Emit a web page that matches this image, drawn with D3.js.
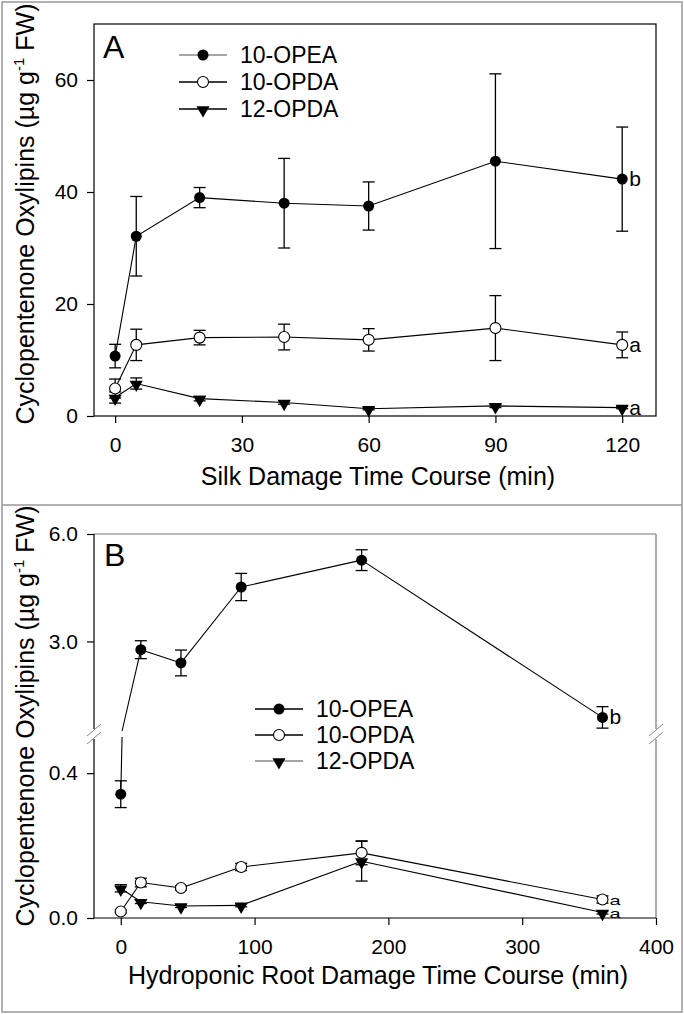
<!DOCTYPE html>
<html>
<head>
<meta charset="utf-8">
<script src="https://cdn.jsdelivr.net/npm/d3@7"></script>
<style>
body { margin: 0; background: #fff; }
text { font-family: "Liberation Sans", Arial, sans-serif; fill: #000; }
</style>
</head>
<body>
<svg id="chart" width="684" height="1014"></svg>
<script>
// ---- panel A: silk damage ----
var timeA = [0, 5, 20, 40, 60, 90, 120];
var opeaA = [10.7, 32.1, 39.0, 38.0, 37.5, 45.5, 42.3];
var opeaA_se = [2.1, 7.1, 1.8, 8.0, 4.3, 15.6, 9.3];
var opdaA = [4.9, 12.7, 14.0, 14.1, 13.6, 15.7, 12.7];
var opdaA_se = [1.7, 2.8, 1.3, 2.3, 2.0, 5.8, 2.3];
var opda12A = [3.3, 5.8, 3.1, 2.4, 1.3, 1.8, 1.5];
var opda12A_se = [1.0, 1.0, 0.4, 0.3, 0.2, 0.3, 0.2];
var ticksAx = [0, 30, 60, 90, 120];
var ticksAy = [0, 20, 40, 60];

// ---- panel B: hydroponic root damage ----
var timeB = [0, 15, 45, 90, 180, 360];
var opeaB = [0.342, 2.77, 2.40, 4.52, 5.27, 0.88];
var opeaB_se = [0.037, 0.25, 0.36, 0.38, 0.29, 0.30];
var opdaB = [0.018, 0.098, 0.083, 0.141, 0.18, 0.051];
var opdaB_se = [0.004, 0.012, 0.006, 0.01, 0.033, 0.01];
var opda12B = [0.082, 0.045, 0.033, 0.035, 0.157, 0.015];
var opda12B_se = [0.01, 0.005, 0.004, 0.004, 0.055, 0.004];
var ticksBx = [0, 100, 200, 300, 400];
var ticksBy = [0.0, 0.4, 3.0, 6.0];
var breakAt = 0.5;

var seriesNames = ["10-OPEA", "10-OPDA", "12-OPDA"];

var svg = d3.select("#chart");

// outer frame and panel divider
svg.append("rect").attr("x", 2).attr("y", 2).attr("width", 680).attr("height", 1010)
    .attr("fill", "none").attr("stroke", "#999").attr("stroke-width", 1.5);
svg.append("line").attr("x1", 2).attr("x2", 682).attr("y1", 505).attr("y2", 505)
    .attr("stroke", "#999").attr("stroke-width", 1.5);

var left = 94, right = 656;
var tickFont = 21;

function drawMarker(g, kind, x, y) {
    if (kind === 0) {
        g.append("circle").attr("cx", x).attr("cy", y).attr("r", 5.5).attr("fill", "#000");
    } else if (kind === 1) {
        g.append("circle").attr("cx", x).attr("cy", y).attr("r", 5.5)
            .attr("fill", "#fff").attr("stroke", "#000").attr("stroke-width", 1.1);
    } else {
        g.append("path").attr("d", d3.symbol().type(d3.symbolTriangle).size(75)())
            .attr("transform", "translate(" + x + "," + (y + 1) + ") rotate(180)")
            .attr("fill", "#000");
    }
}

function errorBars(g, xs, ys, se, x, y) {
    xs.forEach(function(t, i) {
        var cx = x(t), y1 = y(ys[i] + se[i]), y2 = y(ys[i] - se[i]);
        g.append("line").attr("x1", cx).attr("x2", cx).attr("y1", y1).attr("y2", y2)
            .attr("stroke", "#000").attr("stroke-width", 1.3);
        [y1, y2].forEach(function(yy) {
            g.append("line").attr("x1", cx - 6).attr("x2", cx + 6).attr("y1", yy).attr("y2", yy)
                .attr("stroke", "#000").attr("stroke-width", 1.3);
        });
    });
}

function legend(g, x0, y0, dy, lineColors) {
    seriesNames.forEach(function(name, i) {
        var yy = y0 + i * dy;
        g.append("line").attr("x1", x0).attr("x2", x0 + 48).attr("y1", yy).attr("y2", yy)
            .attr("stroke", lineColors[i]).attr("stroke-width", 1.3);
        drawMarker(g, i, x0 + 24, yy);
        g.append("text").attr("x", x0 + 61).attr("y", yy + 8).attr("font-size", 23).text(name);
    });
}

function styleAxis(a) {
    a.selectAll(".tick line").attr("stroke", "#000").attr("stroke-width", 1.2);
    a.selectAll("text").attr("font-size", tickFont)
        .attr("font-family", "Liberation Sans, Arial, sans-serif").attr("fill", "#000");
}

function yTitle(g, cy) {
    var t = g.append("text").attr("transform", "translate(34," + cy + ") rotate(-90)")
        .attr("text-anchor", "middle").attr("font-size", 25);
    t.append("tspan").text("Cyclopentenone Oxylipins (\u00b5g g");
    t.append("tspan").attr("dy", -10).attr("font-size", 15).text("-1");
    t.append("tspan").attr("dy", 10).text(" FW)");
}

// ================= Panel A =================
var xA = d3.scaleLinear().domain([-5, 128]).range([left, right]);
var yA = d3.scaleLinear().domain([0, 70]).range([416, 24]);
var gA = svg.append("g");

gA.append("rect").attr("x", left).attr("y", 24).attr("width", right - left).attr("height", 392)
    .attr("fill", "none").attr("stroke", "#000").attr("stroke-width", 1.2);

var axAx = gA.append("g").attr("transform", "translate(0,416)")
    .call(d3.axisBottom(xA).tickValues(ticksAx).tickSize(7).tickPadding(14).tickFormat(d3.format("d")));
var axAy = gA.append("g").attr("transform", "translate(" + left + ",0)")
    .call(d3.axisLeft(yA).tickValues(ticksAy).tickSize(7).tickPadding(9).tickFormat(d3.format("d")));
[axAx, axAy].forEach(function(a) {
    a.select(".domain").remove();
    styleAxis(a);
});

var lineA = d3.line().x(function(d) { return xA(d[0]); }).y(function(d) { return yA(d[1]); });
[opeaA, opdaA, opda12A].forEach(function(vals) {
    gA.append("path").datum(timeA.map(function(t, i) { return [t, vals[i]]; }))
        .attr("d", lineA).attr("fill", "none").attr("stroke", "#000").attr("stroke-width", 1.1);
});
errorBars(gA, timeA, opeaA, opeaA_se, xA, yA);
errorBars(gA, timeA, opdaA, opdaA_se, xA, yA);
errorBars(gA, timeA, opda12A, opda12A_se, xA, yA);
[opeaA, opdaA, opda12A].forEach(function(vals, k) {
    timeA.forEach(function(t, i) { drawMarker(gA, k, xA(t), yA(vals[i])); });
});

var last = timeA.length - 1;
[["b", opeaA], ["a", opdaA], ["a", opda12A]].forEach(function(p) {
    gA.append("text").attr("x", xA(timeA[last]) + 7).attr("y", yA(p[1][last]) + 7)
        .attr("font-size", 21).text(p[0]);
});

gA.append("text").attr("x", 103).attr("y", 58).attr("font-size", 32).text("A");
legend(gA, 179, 55, 27, ["#888", "#000", "#000"]);

gA.append("text").attr("x", 378).attr("y", 485).attr("text-anchor", "middle")
    .attr("font-size", 25).text("Silk Damage Time Course (min)");
yTitle(gA, 214);

// ================= Panel B =================
var xB = d3.scaleLinear().domain([-20, 400]).range([left, right]);
var yLow = d3.scaleLinear().domain([0, breakAt]).range([918, 737]);
var yHigh = d3.scaleLinear().domain([breakAt, 6]).range([731, 534]);
function yB(v) { return v <= breakAt ? yLow(v) : yHigh(v); }
var breakY = 734;
var gB = svg.append("g");

// frame: left/bottom black, top/right grey
gB.append("line").attr("x1", left).attr("x2", right).attr("y1", 534).attr("y2", 534).attr("stroke", "#777").attr("stroke-width", 1.2);
gB.append("line").attr("x1", right).attr("x2", right).attr("y1", 534).attr("y2", 918).attr("stroke", "#777").attr("stroke-width", 1.2);

var axBx = gB.append("g").attr("transform", "translate(0,918)")
    .call(d3.axisBottom(xB).tickValues(ticksBx).tickSize(7).tickPadding(14).tickFormat(d3.format("d")));
axBx.select(".domain").attr("d", "M" + left + ",0H" + right).attr("stroke", "#000").attr("stroke-width", 1.2);

var axBlow = gB.append("g").attr("transform", "translate(" + left + ",0)")
    .call(d3.axisLeft(yLow).tickValues(ticksBy.filter(function(v) { return v < breakAt; })).tickSize(7).tickPadding(9).tickFormat(d3.format(".1f")));
var axBhigh = gB.append("g").attr("transform", "translate(" + left + ",0)")
    .call(d3.axisLeft(yHigh).tickValues(ticksBy.filter(function(v) { return v > breakAt; })).tickSize(7).tickPadding(9).tickFormat(d3.format(".1f")));
[axBx, axBlow, axBhigh].forEach(styleAxis);
axBlow.select(".domain").attr("d", "M0," + (breakY + 5) + "V918").attr("stroke", "#000").attr("stroke-width", 1.2).attr("fill", "none");
axBhigh.select(".domain").attr("d", "M0,534V" + (breakY - 5)).attr("stroke", "#000").attr("stroke-width", 1.2).attr("fill", "none");
// right axis gap to match the break
gB.append("rect").attr("x", right - 3).attr("y", breakY - 5).attr("width", 6).attr("height", 10).attr("fill", "#fff");

// break marks
[left, right].forEach(function(bx) {
    [-4, 4].forEach(function(off) {
        gB.append("line").attr("x1", bx - 7).attr("x2", bx + 7)
            .attr("y1", breakY + off + 6).attr("y2", breakY + off - 6)
            .attr("stroke", "#888").attr("stroke-width", 1);
    });
});

// series lines, split at the axis break
function brokenLine(g, ts, vals) {
    for (var i = 0; i < ts.length - 1; i++) {
        var a = vals[i], b = vals[i + 1];
        var segs = [];
        if ((a <= breakAt) === (b <= breakAt)) {
            segs.push([[ts[i], a], [ts[i + 1], b]]);
        } else {
            var tc = ts[i] + (ts[i + 1] - ts[i]) * (breakAt - a) / (b - a);
            segs.push([[ts[i], a], [tc, breakAt, a <= breakAt]]);
            segs.push([[tc, breakAt, b <= breakAt], [ts[i + 1], b]]);
        }
        segs.forEach(function(s) {
            var pts = s.map(function(p) {
                var yy = p.length > 2 ? (p[2] ? yLow(breakAt) : yHigh(breakAt)) : yB(p[1]);
                return [xB(p[0]), yy];
            });
            g.append("path").attr("d", d3.line()(pts)).attr("fill", "none")
                .attr("stroke", "#000").attr("stroke-width", 1.1);
        });
    }
}
brokenLine(gB, timeB, opeaB);
brokenLine(gB, timeB, opdaB);
brokenLine(gB, timeB, opda12B);
errorBars(gB, timeB, opeaB, opeaB_se, xB, yB);
errorBars(gB, timeB, opdaB, opdaB_se, xB, yB);
errorBars(gB, timeB, opda12B, opda12B_se, xB, yB);
[opeaB, opdaB, opda12B].forEach(function(vals, k) {
    timeB.forEach(function(t, i) { drawMarker(gB, k, xB(t), yB(vals[i])); });
});

var lastB = timeB.length - 1;
gB.append("text").attr("x", xB(timeB[lastB]) + 7).attr("y", yB(opeaB[lastB]) + 7)
    .attr("font-size", 21).text("b");
// the two "a" labels sit on top of each other, squeezed as in the original
[opdaB, opda12B].forEach(function(vals) {
    gB.append("text")
        .attr("transform", "translate(" + (xB(timeB[lastB]) + 7) + "," + (yB(vals[lastB]) + 5) + ") scale(1,0.62)")
        .attr("font-size", 20).text("a");
});

gB.append("text").attr("x", 104).attr("y", 566).attr("font-size", 32).text("B");
legend(gB, 255, 709, 26, ["#000", "#000", "#888"]);

gB.append("text").attr("x", 378).attr("y", 984).attr("text-anchor", "middle")
    .attr("font-size", 25).text("Hydroponic Root Damage Time Course (min)");
yTitle(gB, 716);
</script>
</body>
</html>
